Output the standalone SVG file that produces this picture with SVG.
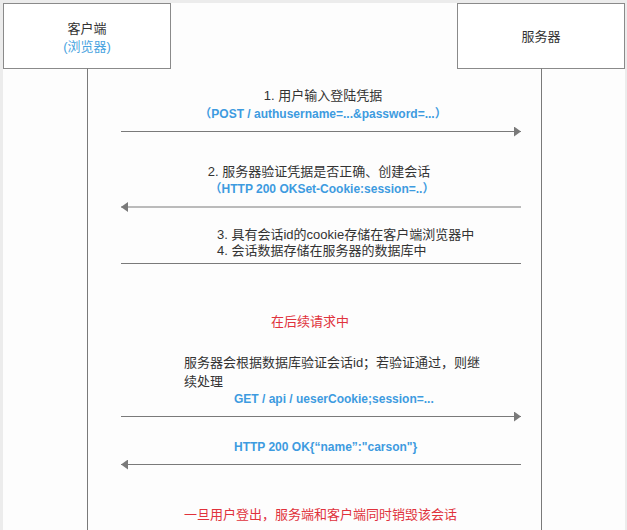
<svg xmlns="http://www.w3.org/2000/svg" width="627" height="530" viewBox="0 0 627 530">
<style>
text{font-family:"Liberation Sans","Noto Sans CJK SC",sans-serif;font-size:13px;fill:#333}
.blue{fill:#3d9be0;font-weight:bold;font-size:12px}
.bluen{fill:#4aa3e0}
.red{fill:#e0323c}
.box{fill:#fff;stroke:#8a8a8a;stroke-width:1}
.life{stroke:#7a7a7a;stroke-width:1;fill:none}
.msg{stroke:#7a7a7a;stroke-width:1.2;fill:none}
</style>
<defs>
<marker id="ah" viewBox="0 0 7 10" refX="7" refY="5" markerWidth="7" markerHeight="10" markerUnits="userSpaceOnUse" orient="auto">
<path d="M0,0 L7,5 L0,10 Z" fill="#7a7a7a"/>
</marker>
</defs>
<rect x="0" y="0" width="627" height="530" fill="#ececec"/>
<rect x="3" y="3" width="622" height="527" fill="#fdfdfd"/>
<g id="client">
<rect class="box" x="3.5" y="3.5" width="167" height="65"/>
<line class="life" x1="87.5" y1="68.5" x2="87.5" y2="530"/>
<text x="87" y="33" text-anchor="middle">客户端</text>
<text class="bluen" x="87" y="51" text-anchor="middle">(浏览器)</text>
</g>
<g id="server">
<rect class="box" x="457.5" y="3.5" width="167" height="65"/>
<line class="life" x1="541.5" y1="68.5" x2="541.5" y2="530"/>
<text x="541" y="41" text-anchor="middle">服务器</text>
</g>
<g id="connectors">
<line class="msg" x1="121" y1="131.5" x2="521" y2="131.5" marker-end="url(#ah)"/>
<line class="msg" x1="521" y1="207" x2="121" y2="207" marker-end="url(#ah)"/>
<line class="msg" x1="121" y1="263.5" x2="521" y2="263.5"/>
<line class="msg" x1="121" y1="416.5" x2="521" y2="416.5" marker-end="url(#ah)"/>
<line class="msg" x1="521" y1="464.5" x2="121" y2="464.5" marker-end="url(#ah)"/>
</g>
<g id="labels">
<text x="323" y="99.5" text-anchor="middle">1. 用户输入登陆凭据</text>
<text class="blue" x="323" y="117.5" text-anchor="middle">（POST / authusername=...&amp;password=...）</text>
<text x="319" y="176" text-anchor="middle">2. 服务器验证凭据是否正确、创建会话</text>
<text class="blue" x="322" y="192.5" text-anchor="middle">（HTTP 200 OKSet-Cookie:session=..）</text>
<text x="217" y="238.5">3. 具有会话id的cookie存储在客户端浏览器中</text>
<text x="217" y="255">4. 会话数据存储在服务器的数据库中</text>
<text class="red" x="310" y="326" text-anchor="middle">在后续请求中</text>
<text x="184" y="367">服务器会根据数据库验证会话id；若验证通过，则继</text>
<text x="184" y="385.5">续处理</text>
<text class="blue" x="234" y="402.5">GET / api / ueserCookie;session=...</text>
<text class="blue" x="234" y="450.5">HTTP 200 OK{“name”:"carson"}</text>
<text class="red" x="184" y="518.5">一旦用户登出，服务端和客户端同时销毁该会话</text>
</g>
</svg>
